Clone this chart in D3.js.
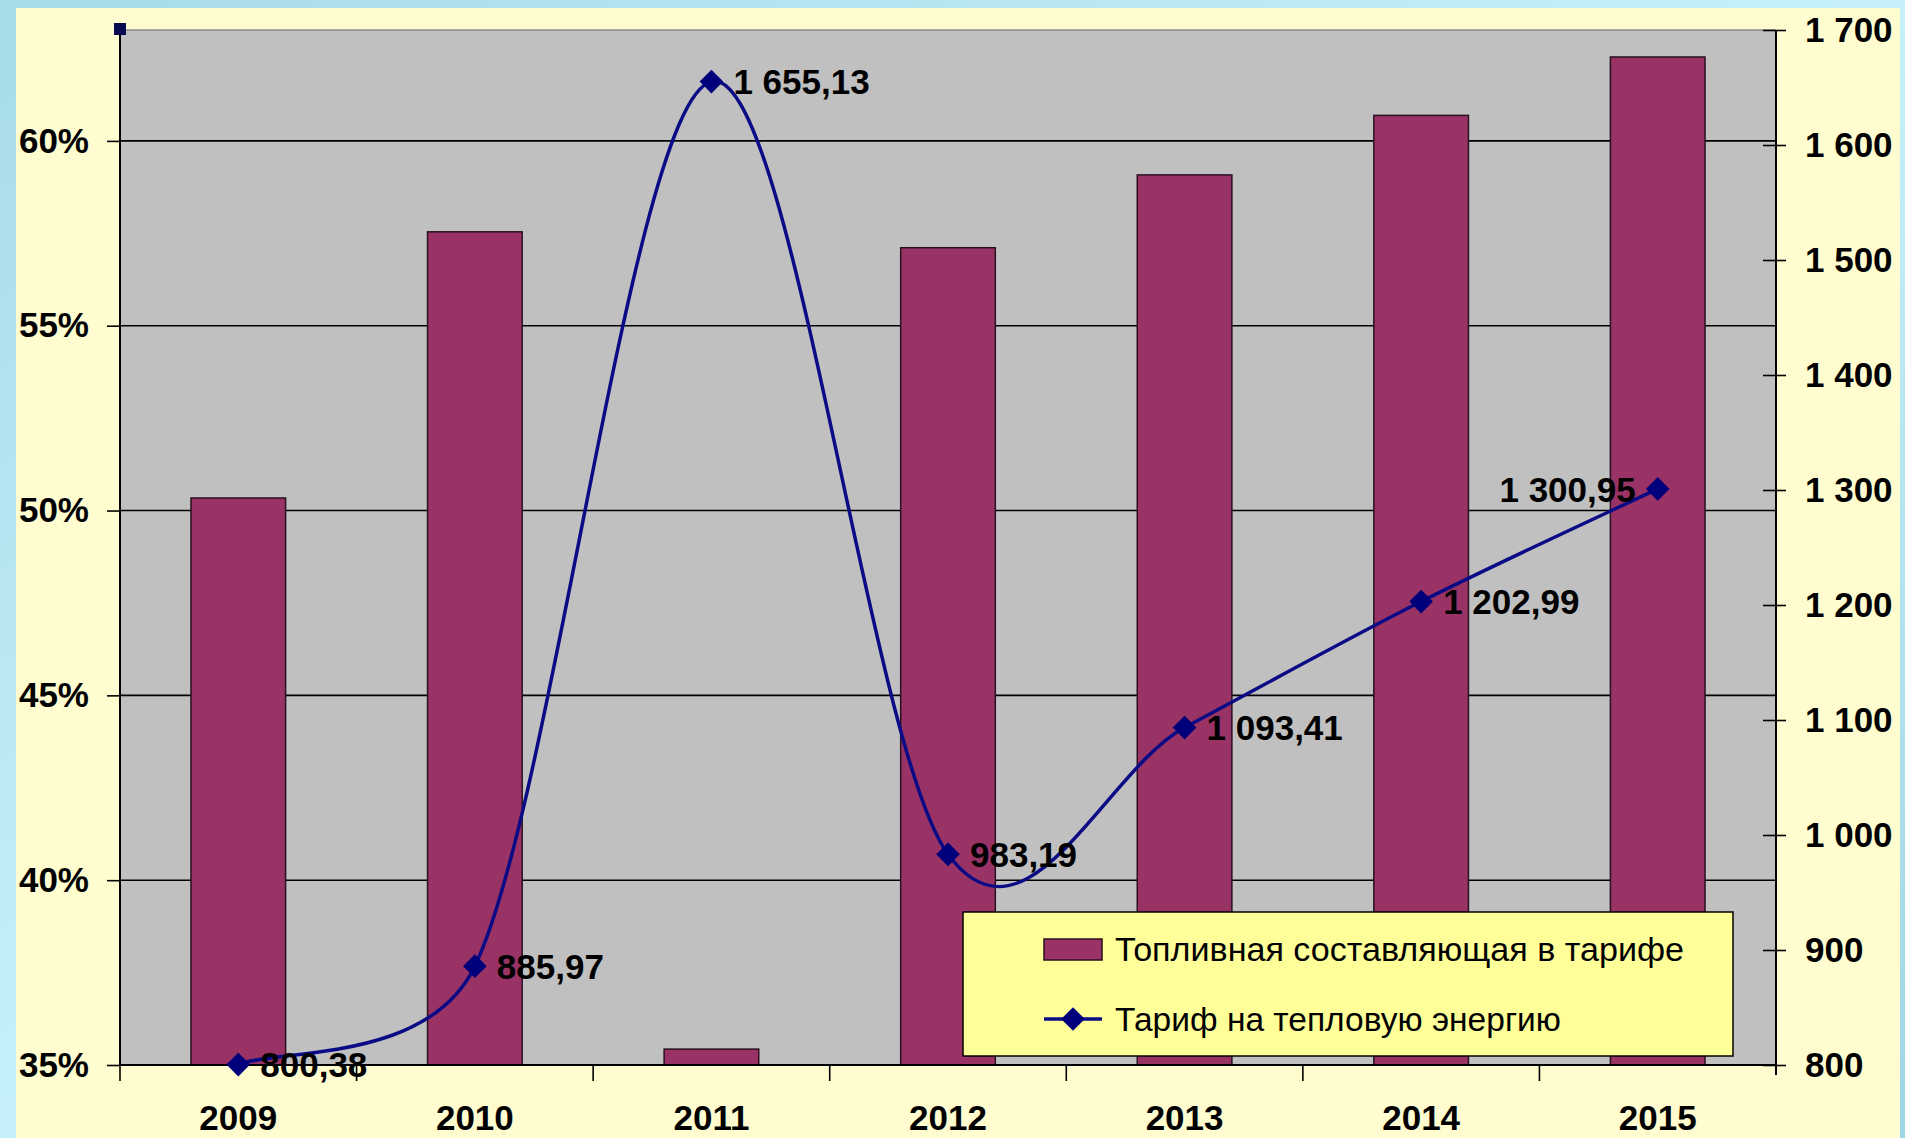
<!DOCTYPE html>
<html><head><meta charset="utf-8">
<script src="https://cdn.jsdelivr.net/npm/d3@7"></script>
<style>
html,body{margin:0;padding:0;overflow:hidden;background:#b9e7f1;}
svg{display:block;font-family:"Liberation Sans",Arial,sans-serif;}
</style></head>
<body>
<svg id="c" width="1905" height="1138"></svg>
<script>
const years = ["2009","2010","2011","2012","2013","2014","2015"];
const fuelShare = [0.5034, 0.5754, 0.3543, 0.5711, 0.5908, 0.6069, 0.6227];
const tariff = [800.38, 885.97, 1655.13, 983.19, 1093.41, 1202.99, 1300.95];
const leftTicks = [0.35, 0.40, 0.45, 0.50, 0.55, 0.60];
const rightTicks = [800, 900, 1000, 1100, 1200, 1300, 1400, 1500, 1600, 1700];
const seriesNames = ["Топливная составляющая в тарифе", "Тариф на тепловую энергию"];
// label side: 1 = right of point, -1 = left
const labelSide = [1, 1, 1, 1, 1, 1, -1];

const ru = d3.formatLocale({decimal: ",", thousands: " ", grouping: [3], currency: ["", ""]});
const fmtVal = ru.format(",.2f");
const fmtAxisR = ru.format(",d");
const fmtPct = d3.format(".0%");

const svg = d3.select("#c");
const W = 1905, H = 1138;
const L = 120, R = 1776, T = 30, B = 1065;

// background
const defs = svg.append("defs");
const g1 = defs.append("linearGradient").attr("id","sky").attr("x1",0).attr("y1",0).attr("x2",1).attr("y2",1);
g1.append("stop").attr("offset","0").attr("stop-color","#a7dbe8");
g1.append("stop").attr("offset","0.5").attr("stop-color","#c6f1fa");
g1.append("stop").attr("offset","1").attr("stop-color","#9fd6e6");
svg.append("rect").attr("width",W).attr("height",H).attr("fill","url(#sky)");
svg.append("rect").attr("x",16).attr("y",8).attr("width",1884).attr("height",H-8).attr("fill","#fffdd0");

const x = d3.scaleBand().domain(years).range([L, R]).paddingInner(0).paddingOuter(0);
const yL = d3.scaleLinear().domain([0.35, 0.63]).range([B, T]);
const yR = d3.scaleLinear().domain([800, 1700]).range([B, T]);

// plot area
svg.append("rect").attr("x",L).attr("y",T).attr("width",R-L).attr("height",B-T).attr("fill","#c0c0c0");
svg.append("line").attr("x1",L).attr("x2",R).attr("y1",T).attr("y2",T).attr("stroke","#8a8a8a").attr("stroke-width",1.5);

// gridlines
svg.append("g").selectAll("line").data(leftTicks.filter(d=>d>0.35)).join("line")
  .attr("x1",L).attr("x2",R).attr("y1",d=>yL(d)).attr("y2",d=>yL(d))
  .attr("stroke","#000").attr("stroke-width",1.6);

// bars
const bw = x.bandwidth()*0.40;
svg.append("g").selectAll("rect").data(years).join("rect")
  .attr("x",(d)=>x(d)+x.bandwidth()/2-bw/2)
  .attr("y",(d,i)=>yL(fuelShare[i]))
  .attr("width",bw)
  .attr("height",(d,i)=>B-yL(fuelShare[i]))
  .attr("fill","#993366").attr("stroke","#2a1020").attr("stroke-width",1.5);

// left axis
const axL = svg.append("g").attr("transform",`translate(${L},0)`)
  .call(d3.axisLeft(yL).tickValues(leftTicks).tickFormat(fmtPct).tickSize(13).tickPadding(18));
axL.select(".domain").attr("stroke","#000").attr("stroke-width",2).attr("d",`M0,${T}V${B}`);
axL.selectAll(".tick line").attr("stroke","#000").attr("stroke-width",1.6);
axL.selectAll(".tick text").attr("font-size",35).attr("font-weight","bold").attr("fill","#000")
  .attr("font-family","Liberation Sans, Arial, sans-serif");

// right axis
const axR = svg.append("g").attr("transform",`translate(${R},0)`)
  .call(d3.axisRight(yR).tickValues(rightTicks).tickFormat(fmtAxisR).tickSize(10).tickPadding(19));
axR.select(".domain").attr("stroke","#000").attr("stroke-width",2).attr("d",`M0,${T}V${B+10}`);
axR.selectAll(".tick line").attr("x1",-13).attr("stroke","#000").attr("stroke-width",1.6);
axR.selectAll(".tick text").attr("font-size",35).attr("font-weight","bold").attr("fill","#000")
  .attr("font-family","Liberation Sans, Arial, sans-serif");

// bottom axis
const axB = svg.append("g").attr("transform",`translate(0,${B})`)
  .call(d3.axisBottom(x).tickSize(0).tickPadding(40));
axB.select(".domain").attr("stroke","#000").attr("stroke-width",2).attr("d",`M${L},0H${R}`);
axB.selectAll(".tick text").attr("font-size",35).attr("font-weight","bold").attr("fill","#000")
  .attr("font-family","Liberation Sans, Arial, sans-serif");
// category boundary ticks
const bounds = years.map(d=>x(d));
axB.append("g").selectAll("line").data(bounds).join("line")
  .attr("x1",d=>d).attr("x2",d=>d).attr("y1",0).attr("y2",16)
  .attr("stroke","#000").attr("stroke-width",1.6);

// corner handle
svg.append("rect").attr("x",114).attr("y",23).attr("width",12).attr("height",12).attr("fill","#0a0a50");

// smoothed line (Catmull-Rom style Bezier, with overshoot limit toward neighbours)
const cx = (i)=>x(years[i])+x.bandwidth()/2;
const pts = tariff.map((v,i)=>[cx(i), yR(v)]);
function smoothPath(p){
  const n = p.length;
  const tan = p.map((q,i)=>{
    const a = p[Math.max(0,i-1)], b = p[Math.min(n-1,i+1)];
    return [(b[0]-a[0])/6, (b[1]-a[1])/6];
  });
  function ctrl(i, dir){ // dir=+1 toward next, -1 toward previous
    const q = p[i], nb = p[i+dir];
    let t = [tan[i][0]*dir, tan[i][1]*dir];
    const dyc = t[1], dyn = nb[1]-q[1];
    if (dyc*dyn > 0 && Math.abs(dyc) > Math.abs(dyn)) { const s = dyn/dyc; t = [t[0]*s, t[1]*s]; }
    return [q[0]+t[0], q[1]+t[1]];
  }
  const path = d3.path();
  path.moveTo(p[0][0], p[0][1]);
  for (let i=0;i<n-1;i++){
    const c1 = ctrl(i, 1), c2 = ctrl(i+1, -1);
    path.bezierCurveTo(c1[0],c1[1],c2[0],c2[1],p[i+1][0],p[i+1][1]);
  }
  return path.toString();
}
svg.append("path").attr("d",smoothPath(pts)).attr("fill","none").attr("stroke","#0b0b86").attr("stroke-width",3.5);

const diamond = d3.symbol().type(d3.symbolSquare).size(280);
svg.append("g").selectAll("path").data(tariff).join("path")
  .attr("d",diamond())
  .attr("transform",(d,i)=>`translate(${cx(i)},${yR(d)}) rotate(45)`)
  .attr("fill","#00007a");

svg.append("g").selectAll("text").data(tariff).join("text")
  .attr("x",(d,i)=>cx(i)+labelSide[i]*22)
  .attr("y",(d)=>yR(d))
  .attr("dy","0.36em")
  .attr("text-anchor",(d,i)=>labelSide[i]>0?"start":"end")
  .attr("font-size",35).attr("font-weight","bold").attr("fill","#000")
  .text(d=>fmtVal(d));

// legend
const lg = svg.append("g");
lg.append("rect").attr("x",963).attr("y",912).attr("width",770).attr("height",144)
  .attr("fill","#ffff99").attr("stroke","#000").attr("stroke-width",1.5);
lg.append("rect").attr("x",1044).attr("y",939).attr("width",58).attr("height",21)
  .attr("fill","#993366").attr("stroke","#2a1020").attr("stroke-width",1.5);
lg.append("line").attr("x1",1044).attr("x2",1102).attr("y1",1019).attr("y2",1019)
  .attr("stroke","#0b0b86").attr("stroke-width",3.5);
lg.append("path").attr("d",diamond()).attr("transform","translate(1073,1019) rotate(45)").attr("fill","#00007a");
lg.append("text").attr("x",1115).attr("y",961).attr("font-size",33).attr("fill","#000")
  .attr("textLength",569).attr("lengthAdjust","spacingAndGlyphs").text(seriesNames[0]);
lg.append("text").attr("x",1115).attr("y",1031).attr("font-size",33).attr("fill","#000")
  .attr("textLength",446).attr("lengthAdjust","spacingAndGlyphs").text(seriesNames[1]);
</script>
</body></html>
